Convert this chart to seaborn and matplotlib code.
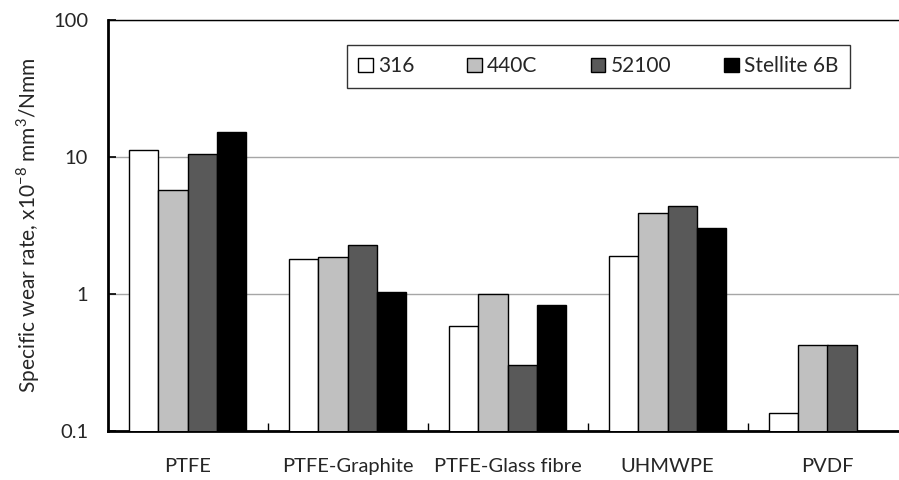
import matplotlib
matplotlib.use("Agg")
import matplotlib.pyplot as plt
import matplotlib.patches as mpatches
import numpy as np
import pandas as pd
import seaborn as sns

# Polymer counterfaces and steel/alloy discs
materials = ["PTFE", "PTFE-Graphite", "PTFE-Glass fibre", "UHMWPE", "PVDF"]
counterfaces = ["316", "440C", "52100", "Stellite 6B"]

# Specific wear rate, x10^-8 mm^3/Nmm
rate_316 = [11.3, 1.80, 0.58, 1.90, 0.135]
rate_440c = [5.7, 1.86, 1.00, 3.9, 0.42]
rate_52100 = [10.6, 2.26, 0.30, 4.4, 0.42]
rate_stellite = [15.3, 1.03, 0.83, 3.04, np.nan]

colors = {"316": "#ffffff", "440C": "#c0c0c0", "52100": "#595959", "Stellite 6B": "#000000"}

rows = []
for cf, vals in zip(counterfaces, [rate_316, rate_440c, rate_52100, rate_stellite]):
    for m, v in zip(materials, vals):
        rows.append({"material": m, "counterface": cf, "rate": v})
df = pd.DataFrame(rows)

sns.set_style("white")
plt.rcParams["font.family"] = ["Lato", "DejaVu Sans"]
plt.rcParams["mathtext.fontset"] = "custom"
plt.rcParams["mathtext.rm"] = "Lato"

fig = plt.figure(figsize=(8.99, 4.80), dpi=100)
ax = fig.add_axes([107.5 / 899, 1 - 430.5 / 480, 800 / 899, (430.5 - 20.3) / 480])

sns.barplot(data=df, x="material", y="rate", hue="counterface",
            order=materials, hue_order=counterfaces, palette=colors,
            width=0.73, edgecolor="black", linewidth=1.0, errorbar=None,
            legend=False, ax=ax, zorder=3)

ax.set_yscale("log")
ax.set_ylim(0.1, 100)
ax.set_xlim(-0.5, len(materials) - 0.5)
ax.set_yticks([0.1, 1, 10, 100])
ax.set_yticklabels(["0.1", "1", "10", "100"])
ax.yaxis.set_minor_locator(matplotlib.ticker.NullLocator())
ax.grid(axis="y", color="#a6a6a6", linewidth=1.0, zorder=0)
ax.set_axisbelow(True)

ax.tick_params(axis="y", direction="in", length=6, width=1.2, color="black",
               labelsize=14.5, pad=14, left=True)
ax.tick_params(axis="x", bottom=False, length=0, labelsize=14.5, pad=20)
# category separators along the base line
ax.set_xticks(np.arange(len(materials) - 1) + 0.5, minor=True)
ax.tick_params(axis="x", which="minor", direction="in", length=6, width=1.0,
               color="black", bottom=True)

for side in ["left", "bottom"]:
    ax.spines[side].set_color("black")
    ax.spines[side].set_linewidth(2.0)
ax.spines["top"].set_color("black")
ax.spines["top"].set_linewidth(1.0)
ax.spines["right"].set_visible(False)

ax.set_xlabel("")
ax.set_ylabel("Specific wear rate, x10$^{-8}$ mm$^{3}$/Nmm", fontsize=15, labelpad=8)

handles = [mpatches.Patch(facecolor=colors[c], edgecolor="black", linewidth=1.0, label=c)
           for c in counterfaces]
leg = ax.legend(handles=handles, ncol=4, loc="upper left",
                bbox_to_anchor=((346.7 - 107.5) / 800, (430.5 - 45) / 410.2),
                frameon=True, fancybox=False, edgecolor="black", fontsize=15,
                handlelength=0.7, handleheight=0.7, handletextpad=0.25,
                columnspacing=2.55, borderpad=0.55, borderaxespad=0)
leg.get_frame().set_linewidth(1.0)

fig.savefig("out.png", dpi=100)
